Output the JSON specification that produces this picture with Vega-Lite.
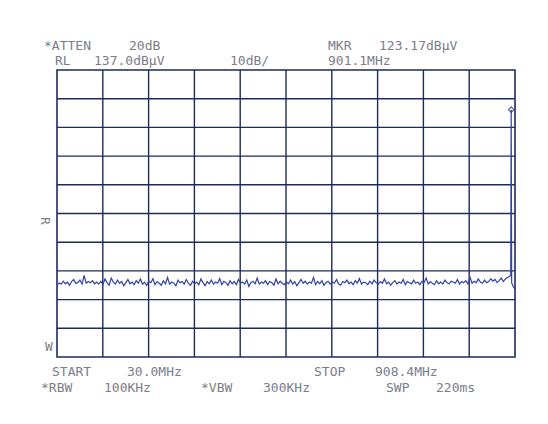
{
  "$schema": "https://vega.github.io/schema/vega-lite/v6.json",
  "width": 458,
  "height": 287,
  "autosize": {"type": "none"},
  "padding": {"left": 57, "top": 70, "right": 33, "bottom": 67},
  "background": "white",
  "config": {
    "view": {"stroke": "#1f2a5c", "strokeWidth": 1.6},
    "text": {"font": "DejaVu Sans Mono", "fontSize": 13, "color": "#7c7c8a"},
    "axis": {"grid": false, "labels": false, "ticks": false, "domain": false, "title": null}
  },
  "datasets": {
    "vgrid": [{"f":117.84},{"f":205.68},{"f":293.52},{"f":381.36},{"f":469.2},{"f":557.04},{"f":644.88},{"f":732.72},{"f":820.56}],
    "hgrid": [{"db":47},{"db":57},{"db":67},{"db":77},{"db":87},{"db":97},{"db":107},{"db":117},{"db":127}],
    "trace": [
      {"f":30,"v":62.2},{"f":34,"v":62.7},{"f":38,"v":62.4},{"f":42,"v":63.4},{"f":46,"v":62.5},{"f":50,"v":63.1},{"f":54,"v":62.0},{"f":58,"v":63.3},{"f":62,"v":64.0},{"f":66,"v":62.7},
      {"f":70,"v":62.9},{"f":74,"v":63.8},{"f":78,"v":62.4},{"f":82,"v":65.4},{"f":86,"v":62.7},{"f":90,"v":63.3},{"f":94,"v":62.9},{"f":98,"v":63.6},{"f":102,"v":62.5},{"f":106,"v":63.1},
      {"f":110,"v":62.4},{"f":114,"v":63.4},{"f":118,"v":62.2},{"f":122,"v":64.2},{"f":126,"v":62.9},{"f":130,"v":62.0},{"f":134,"v":64.5},{"f":138,"v":63.1},{"f":142,"v":62.4},{"f":146,"v":63.8},
      {"f":150,"v":62.7},{"f":154,"v":63.3},{"f":158,"v":61.8},{"f":162,"v":62.9},{"f":166,"v":64.0},{"f":170,"v":62.5},{"f":174,"v":63.1},{"f":178,"v":62.2},{"f":182,"v":63.6},{"f":186,"v":62.7},
      {"f":190,"v":64.2},{"f":194,"v":62.4},{"f":198,"v":63.1},{"f":202,"v":62.0},{"f":206,"v":63.4},{"f":210,"v":62.9},{"f":214,"v":64.3},{"f":218,"v":62.2},{"f":222,"v":63.3},{"f":226,"v":62.7},
      {"f":230,"v":62.0},{"f":234,"v":63.6},{"f":238,"v":62.5},{"f":242,"v":64.7},{"f":246,"v":62.4},{"f":250,"v":63.1},{"f":254,"v":62.7},{"f":258,"v":61.8},{"f":262,"v":63.8},{"f":266,"v":62.9},
      {"f":270,"v":63.3},{"f":274,"v":62.4},{"f":278,"v":64.0},{"f":282,"v":62.7},{"f":286,"v":62.0},{"f":290,"v":63.4},{"f":294,"v":62.5},{"f":298,"v":63.1},{"f":302,"v":62.2},{"f":306,"v":64.2},
      {"f":310,"v":62.9},{"f":314,"v":61.8},{"f":318,"v":63.3},{"f":322,"v":62.5},{"f":326,"v":63.8},{"f":330,"v":62.4},{"f":334,"v":63.1},{"f":338,"v":62.7},{"f":342,"v":64.3},{"f":346,"v":62.2},
      {"f":350,"v":63.4},{"f":354,"v":62.9},{"f":358,"v":62.0},{"f":362,"v":63.6},{"f":366,"v":62.5},{"f":370,"v":63.3},{"f":374,"v":62.2},{"f":378,"v":64.0},{"f":382,"v":62.7},{"f":386,"v":63.1},
      {"f":390,"v":62.4},{"f":394,"v":63.8},{"f":398,"v":61.6},{"f":402,"v":62.9},{"f":406,"v":63.4},{"f":410,"v":62.5},{"f":414,"v":64.5},{"f":418,"v":62.4},{"f":422,"v":63.1},{"f":426,"v":62.7},
      {"f":430,"v":63.6},{"f":434,"v":62.2},{"f":438,"v":63.3},{"f":442,"v":62.9},{"f":446,"v":62.0},{"f":450,"v":64.2},{"f":454,"v":62.5},{"f":458,"v":63.4},{"f":462,"v":62.7},{"f":466,"v":62.2},
      {"f":470,"v":63.1},{"f":474,"v":62.5},{"f":478,"v":63.8},{"f":482,"v":62.4},{"f":486,"v":63.3},{"f":490,"v":61.8},{"f":494,"v":62.9},{"f":498,"v":64.0},{"f":502,"v":62.7},{"f":506,"v":63.4},
      {"f":510,"v":62.4},{"f":514,"v":63.1},{"f":518,"v":62.7},{"f":522,"v":64.7},{"f":526,"v":62.2},{"f":530,"v":63.3},{"f":534,"v":62.5},{"f":538,"v":63.6},{"f":542,"v":62.0},{"f":546,"v":62.9},
      {"f":550,"v":63.4},{"f":554,"v":62.4},{"f":558,"v":63.1},{"f":562,"v":62.7},{"f":566,"v":64.0},{"f":570,"v":62.5},{"f":574,"v":62.0},{"f":578,"v":63.3},{"f":582,"v":62.9},{"f":586,"v":63.8},
      {"f":590,"v":62.5},{"f":594,"v":63.1},{"f":598,"v":62.2},{"f":602,"v":63.6},{"f":606,"v":62.7},{"f":610,"v":64.3},{"f":614,"v":62.4},{"f":618,"v":63.1},{"f":622,"v":62.9},{"f":626,"v":62.2},
      {"f":630,"v":63.4},{"f":634,"v":62.5},{"f":638,"v":63.8},{"f":642,"v":62.9},{"f":646,"v":62.4},{"f":650,"v":63.3},{"f":654,"v":62.7},{"f":658,"v":64.2},{"f":662,"v":62.5},{"f":666,"v":63.1},
      {"f":670,"v":62.0},{"f":674,"v":62.9},{"f":678,"v":63.6},{"f":682,"v":62.4},{"f":686,"v":63.1},{"f":690,"v":62.7},{"f":694,"v":64.0},{"f":698,"v":62.2},{"f":702,"v":63.3},{"f":706,"v":62.9},
      {"f":710,"v":62.5},{"f":714,"v":63.8},{"f":718,"v":62.7},{"f":722,"v":63.1},{"f":726,"v":62.2},{"f":730,"v":63.4},{"f":734,"v":62.9},{"f":738,"v":64.5},{"f":742,"v":62.4},{"f":746,"v":63.3},
      {"f":750,"v":62.7},{"f":754,"v":62.2},{"f":758,"v":63.6},{"f":762,"v":62.5},{"f":766,"v":63.1},{"f":770,"v":62.4},{"f":774,"v":63.8},{"f":778,"v":62.9},{"f":782,"v":62.5},{"f":786,"v":63.4},
      {"f":790,"v":63.1},{"f":794,"v":62.7},{"f":798,"v":64.0},{"f":802,"v":62.4},{"f":806,"v":63.3},{"f":810,"v":62.9},{"f":814,"v":63.6},{"f":818,"v":62.5},{"f":822,"v":64.9},{"f":826,"v":62.7},
      {"f":830,"v":63.4},{"f":834,"v":62.9},{"f":838,"v":64.2},{"f":842,"v":63.1},{"f":846,"v":62.7},{"f":850,"v":63.8},{"f":854,"v":62.9},{"f":858,"v":63.3},{"f":862,"v":64.3},{"f":866,"v":63.4},
      {"f":870,"v":64.0},{"f":874,"v":62.9},{"f":878,"v":63.6},{"f":882,"v":64.5},{"f":886,"v":63.3},{"f":890,"v":64.2},{"f":894,"v":64.7},{"f":898,"v":65.1},
      {"f":900.2,"v":65.5},{"f":901.1,"v":123.17},{"f":902.0,"v":62.8},{"f":904,"v":62.0},{"f":906,"v":61.2},{"f":908.4,"v":60.5}
    ],
    "labels": [
      {"t":"*ATTEN","f":5.1,"db":145.4},
      {"t":"20dB","f":168.1,"db":145.4},
      {"t":"MKR","f":549.7,"db":145.4},
      {"t":"123.17dBµV","f":647.6,"db":145.4},
      {"t":"RL","f":26.2,"db":140.1},
      {"t":"137.0dBµV","f":101.0,"db":140.1},
      {"t":"10dB/","f":361.8,"db":140.1},
      {"t":"901.1MHz","f":549.7,"db":140.1},
      {"t":"START","f":20.4,"db":31.8},
      {"t":"30.0MHz","f":164.3,"db":31.8},
      {"t":"STOP","f":522.9,"db":31.8},
      {"t":"908.4MHz","f":639.9,"db":31.8},
      {"t":"*RBW","f":-0.7,"db":26.2},
      {"t":"100KHz","f":120.1,"db":26.2},
      {"t":"*VBW","f":306.2,"db":26.2},
      {"t":"300KHz","f":425.1,"db":26.2},
      {"t":"SWP","f":661.0,"db":26.2},
      {"t":"220ms","f":756.9,"db":26.2},
      {"t":"W","f":7.0,"db":40.5}
    ],
    "side": [{"t":"R","f":7.0,"db":84.4}],
    "marker": [{"f":901.1,"v":123.17}]
  },
  "encoding": {
    "x": {"type": "quantitative", "scale": {"domain": [30, 908.4], "nice": false, "zero": false}},
    "y": {"type": "quantitative", "scale": {"domain": [37, 137], "nice": false, "zero": false}}
  },
  "layer": [
    {
      "data": {"name": "vgrid"},
      "mark": {"type": "rule", "color": "#1f2a5c", "strokeWidth": 1.4},
      "encoding": {"x": {"field": "f", "type": "quantitative"}}
    },
    {
      "data": {"name": "hgrid"},
      "mark": {"type": "rule", "color": "#1f2a5c", "strokeWidth": 1.4},
      "encoding": {"y": {"field": "db", "type": "quantitative"}}
    },
    {
      "data": {"name": "trace"},
      "mark": {"type": "line", "color": "#3340a8", "strokeWidth": 1.2},
      "encoding": {
        "x": {"field": "f", "type": "quantitative"},
        "y": {"field": "v", "type": "quantitative"}
      }
    },
    {
      "data": {"name": "marker"},
      "mark": {"type": "point", "shape": "diamond", "filled": false, "color": "#1f2a5c", "size": 30, "strokeWidth": 1.2},
      "encoding": {
        "x": {"field": "f", "type": "quantitative"},
        "y": {"field": "v", "type": "quantitative"}
      }
    },
    {
      "data": {"name": "labels"},
      "mark": {"type": "text", "align": "left", "baseline": "middle"},
      "encoding": {
        "x": {"field": "f", "type": "quantitative"},
        "y": {"field": "db", "type": "quantitative"},
        "text": {"field": "t"}
      }
    },
    {
      "data": {"name": "side"},
      "mark": {"type": "text", "align": "center", "baseline": "middle", "angle": 90},
      "encoding": {
        "x": {"field": "f", "type": "quantitative"},
        "y": {"field": "db", "type": "quantitative"},
        "text": {"field": "t"}
      }
    }
  ]
}
